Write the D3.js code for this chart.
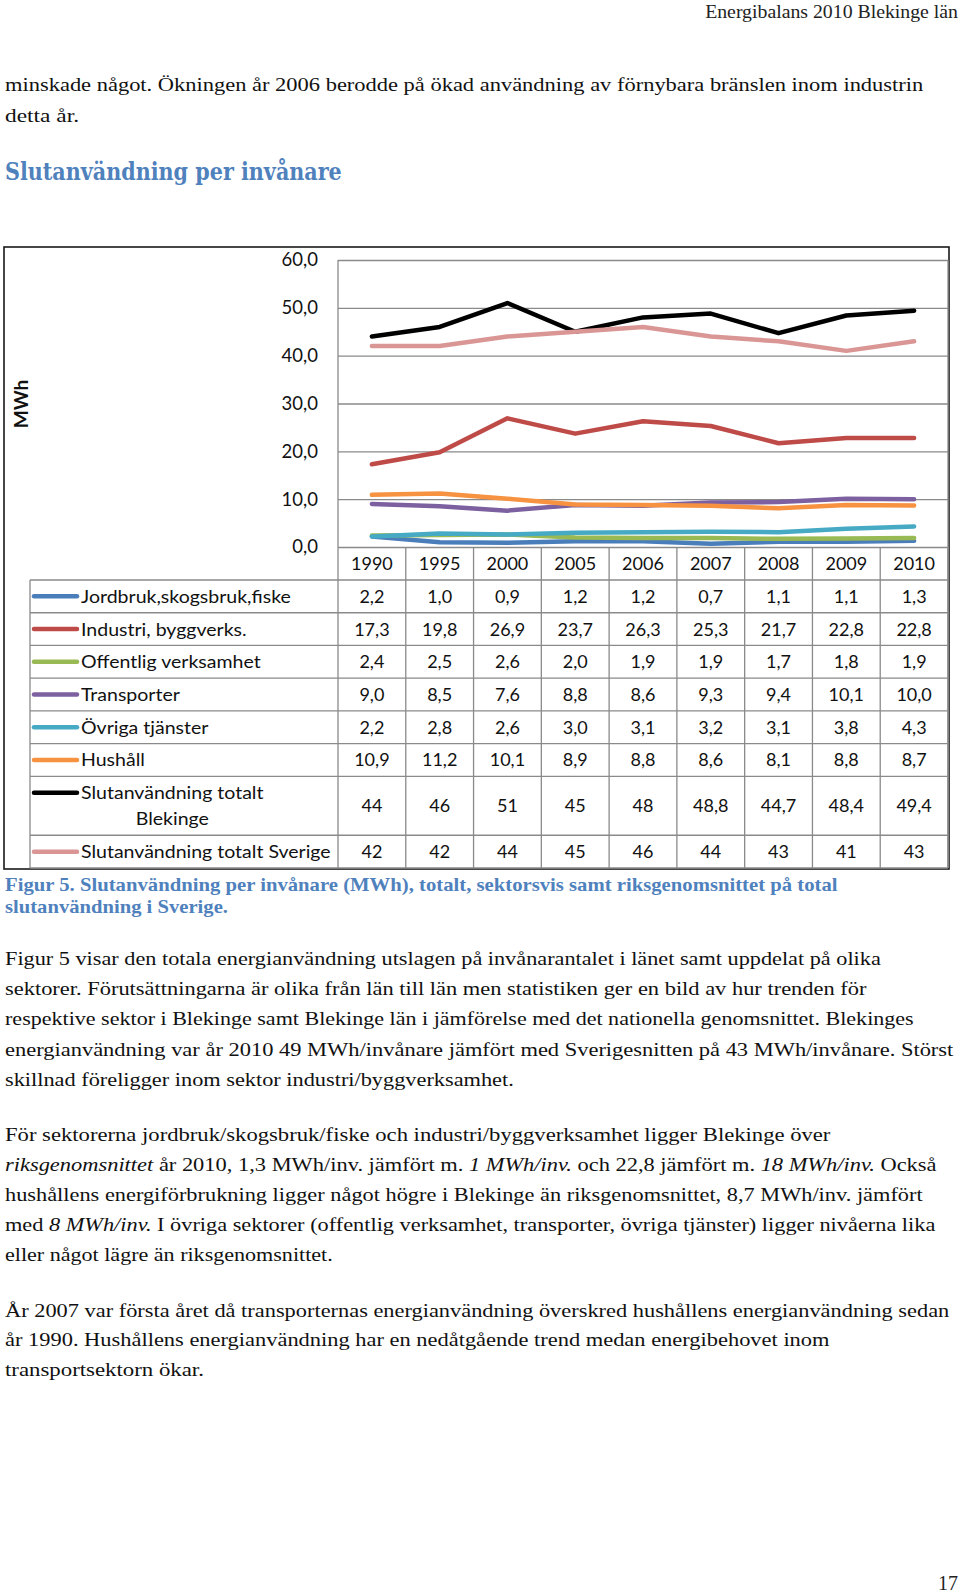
<!DOCTYPE html>
<html><head><meta charset="utf-8">
<script src="https://cdn.jsdelivr.net/npm/d3@7"></script>
<style>body{margin:0;background:#fff}svg{display:block}</style>
</head><body>
<svg id="c" width="960" height="1595"></svg>
<script>
// ---------------- DATA ----------------
const years = ["1990","1995","2000","2005","2006","2007","2008","2009","2010"];
const seriesNames = ["Jordbruk,skogsbruk,fiske","Industri, byggverks.","Offentlig verksamhet","Transporter","Övriga tjänster","Hushåll","Slutanvändning totalt Blekinge","Slutanvändning totalt Sverige"];
const jordbruk    = [2.2, 1.0, 0.9, 1.2, 1.2, 0.7, 1.1, 1.1, 1.3];
const industri    = [17.3, 19.8, 26.9, 23.7, 26.3, 25.3, 21.7, 22.8, 22.8];
const offentlig   = [2.4, 2.5, 2.6, 2.0, 1.9, 1.9, 1.7, 1.8, 1.9];
const transporter = [9.0, 8.5, 7.6, 8.8, 8.6, 9.3, 9.4, 10.1, 10.0];
const ovriga      = [2.2, 2.8, 2.6, 3.0, 3.1, 3.2, 3.1, 3.8, 4.3];
const hushall     = [10.9, 11.2, 10.1, 8.9, 8.8, 8.6, 8.1, 8.8, 8.7];
const totalBlekinge = [44, 46, 51, 45, 48, 48.8, 44.7, 48.4, 49.4];
const totalSverige  = [42, 42, 44, 45, 46, 44, 43, 41, 43];
const seriesFormat = ["fixed","fixed","fixed","fixed","fixed","fixed","general","general"];
const yTicks = [0, 10, 20, 30, 40, 50, 60];
const yAxisTitle = "MWh";

const pageHeader = "Energibalans 2010 Blekinge län";
const introLines = ["minskade något. Ökningen år 2006 berodde på ökad användning av förnybara bränslen inom industrin", "detta år."];
const sectionTitle = "Slutanvändning per invånare";
const captionLines = ["Figur 5. Slutanvändning per invånare (MWh), totalt, sektorsvis samt riksgenomsnittet på total", "slutanvändning i Sverige."];
const para1 = ["Figur 5 visar den totala energianvändning utslagen på invånarantalet i länet samt uppdelat på olika",
  "sektorer. Förutsättningarna är olika från län till län men statistiken ger en bild av hur trenden för",
  "respektive sektor i Blekinge samt Blekinge län i jämförelse med det nationella genomsnittet. Blekinges",
  "energianvändning var år 2010 49 MWh/invånare jämfört med Sverigesnitten på 43 MWh/invånare. Störst",
  "skillnad föreligger inom sektor industri/byggverksamhet."];
const para2 = ["För sektorerna jordbruk/skogsbruk/fiske och industri/byggverksamhet ligger Blekinge över",
  "_riksgenomsnittet_ år 2010, 1,3 MWh/inv. jämfört m. _1 MWh/inv._ och 22,8 jämfört m. _18 MWh/inv._ Också",
  "hushållens energiförbrukning ligger något högre i Blekinge än riksgenomsnittet, 8,7 MWh/inv. jämfört",
  "med _8 MWh/inv._ I övriga sektorer (offentlig verksamhet, transporter, övriga tjänster) ligger nivåerna lika",
  "eller något lägre än riksgenomsnittet."];
const para3 = ["År 2007 var första året då transporternas energianvändning överskred hushållens energianvändning sedan",
  "år 1990. Hushållens energianvändning har en nedåtgående trend medan energibehovet inom",
  "transportsektorn ökar."];
const pageNumber = "17";

// ---------------- LAYOUT ----------------
const seriesValues = [jordbruk, industri, offentlig, transporter, ovriga, hushall, totalBlekinge, totalSverige];
const colors = ["#4A7EBB","#BE4B48","#98B954","#7D60A0","#46AAC5","#F69240","#000000","#D99694"];
const svg = d3.select("#c");
const serif = "'Liberation Serif','DejaVu Serif',serif";
const sans = "Lato,'Open Sans',sans-serif";

function parseSegs(line){
  const parts = line.split("_");
  return parts.map((t,i)=>({t, it: i%2===1})).filter(s=>s.t.length);
}
function fitText(x, y, line, width, opts){
  const g = svg.append("g");
  const t = g.append("text")
    .attr("font-family", opts.family || serif)
    .attr("font-size", opts.size || 19)
    .attr("font-weight", opts.weight || "normal")
    .attr("fill", opts.fill || "#111")
    .attr("text-anchor", opts.anchor || "start");
  parseSegs(line).forEach(s => t.append("tspan").attr("font-style", s.it ? "italic" : "normal").text(s.t));
  const w = t.node().getComputedTextLength();
  const sx = width ? width / w : 1;
  g.attr("transform", `translate(${x},${y}) scale(${sx},1)`);
  return g;
}

// page text
fitText(958, 18, pageHeader, 253, {size: 18, anchor: "end", fill: "#222"});
const introY = [91, 122];
const introW = [919, 74];
introLines.forEach((l,i)=>fitText(5, introY[i], l, introW[i], {size: 19}));
fitText(5, 180, sectionTitle, 337, {size: 24, weight: "bold", fill: "#4F81BD", family: "'DejaVu Serif',serif"});
const capY = [891, 913], capW = [833, 223];
captionLines.forEach((l,i)=>fitText(5, capY[i], l, capW[i], {size: 18, weight: "bold", fill: "#4F81BD"}));
const p1Y = [965, 995, 1025, 1055.5, 1086], p1W = [876, 862, 909, 949, 509];
para1.forEach((l,i)=>fitText(5, p1Y[i], l, p1W[i], {size: 19}));
const p2Y = [1141, 1171, 1201, 1231, 1261], p2W = [826, 932, 918, 931, 328];
para2.forEach((l,i)=>fitText(5, p2Y[i], l, p2W[i], {size: 19}));
const p3Y = [1317, 1346, 1376], p3W = [945, 825, 199];
para3.forEach((l,i)=>fitText(5, p3Y[i], l, p3W[i], {size: 19}));
fitText(958, 1590, pageNumber, 20, {size: 21, anchor: "end", fill: "#222"});

// ---------------- CHART ----------------
const plotL = 338, plotR = 948, plotT = 260, plotB = 547;
const x = d3.scaleBand().domain(years).range([plotL, plotR]).padding(0);
const y = d3.scaleLinear().domain([0, 60]).range([plotB, plotT]);
const locale = d3.formatLocale({decimal: ",", thousands: " ", grouping: [3], currency: ["", ""]});
const f1 = locale.format(".1f");
const fmt = (v, kind) => kind === "fixed" ? f1(v) : (Number.isInteger(v) ? locale.format("d")(v) : f1(v));
const gridColor = "#8a8a8a";

// outer frame
svg.append("rect").attr("x", 4).attr("y", 247).attr("width", 945).attr("height", 622)
  .attr("fill", "none").attr("stroke", "#1a1a1a").attr("stroke-width", 1.6);

// gridlines via axis
const yAxis = d3.axisLeft(y).tickValues(yTicks).tickSize(-(plotR - plotL)).tickFormat(d => f1(d)).tickPadding(20);
const ga = svg.append("g").attr("transform", `translate(${plotL},0)`).call(yAxis);
ga.select(".domain").remove();
ga.selectAll(".tick line").attr("stroke", gridColor).attr("stroke-width", 1.3);
ga.selectAll(".tick text").attr("font-family", sans).attr("font-size", 18.5).attr("fill", "#111").attr("x", -20);

// y axis title
svg.append("text").attr("transform", "translate(28,404) rotate(-90)")
  .attr("text-anchor", "middle").attr("font-family", sans).attr("font-weight", "bold")
  .attr("font-size", 19).attr("fill", "#111").text(yAxisTitle);

// table geometry
const legL = 30;
const headT = plotB, headB = 580;
const rowUnits = [1,1,1,1,1,1,1.8,1];
const unit = (868 - headB) / d3.sum(rowUnits);
const rowTops = [headB];
rowUnits.forEach((u,i)=>rowTops.push(rowTops[i] + u * unit));

const tg = svg.append("g");
rowTops.forEach(t => tg.append("line").attr("x1", legL).attr("x2", plotR).attr("y1", t).attr("y2", t)
  .attr("stroke", gridColor).attr("stroke-width", 1.3));
tg.append("line").attr("x1", legL).attr("x2", legL).attr("y1", headB).attr("y2", 868).attr("stroke", gridColor).attr("stroke-width", 1.3);
tg.append("line").attr("x1", plotL).attr("x2", plotL).attr("y1", plotT).attr("y2", 868).attr("stroke", gridColor).attr("stroke-width", 1.3);
years.forEach(yr => {
  const xr = x(yr) + x.bandwidth();
  tg.append("line").attr("x1", xr).attr("x2", xr).attr("y1", headT).attr("y2", 868).attr("stroke", gridColor).attr("stroke-width", 1.3);
});
tg.append("line").attr("x1", plotR).attr("x2", plotR).attr("y1", plotT).attr("y2", 868).attr("stroke", gridColor).attr("stroke-width", 1.3);

// header years
tg.selectAll("text.yr").data(years).join("text").attr("class", "yr")
  .attr("x", d => x(d) + x.bandwidth()/2).attr("y", (headT + headB)/2)
  .attr("dy", "0.36em").attr("text-anchor", "middle").attr("font-family", sans).attr("font-size", 18).attr("fill", "#111")
  .text(d => d);

// series lines
const line = d3.line().x((d,i) => x(years[i]) + x.bandwidth()/2).y(d => y(d));
seriesValues.forEach((vals, si) => {
  svg.append("path").attr("d", line(vals)).attr("fill", "none").attr("stroke", colors[si])
    .attr("stroke-width", 4.5).attr("stroke-linecap", "round").attr("stroke-linejoin", "round");
});

// legend scale factor (Lato vs reference font width)
const probe = svg.append("text").attr("font-family", sans).attr("font-size", 18).text(seriesNames[0]);
const legScale = 210 / probe.node().getComputedTextLength();
probe.remove();
const maxLabelW = plotL - 81 - 4;

seriesNames.forEach((name, si) => {
  const top = rowTops[si], bot = rowTops[si+1], cy = (top + bot)/2;
  seriesValues[si].forEach((v, i) => {
    tg.append("text").attr("x", x(years[i]) + x.bandwidth()/2).attr("y", cy).attr("dy", "0.36em")
      .attr("text-anchor", "middle").attr("font-family", sans).attr("font-size", 18).attr("fill", "#111")
      .text(fmt(v, seriesFormat[si]));
  });
  const tmp = svg.append("text").attr("font-family", sans).attr("font-size", 18).text(name);
  const w = tmp.node().getComputedTextLength() * legScale;
  tmp.remove();
  let lines = [name];
  if (w > maxLabelW) {
    const k = name.lastIndexOf(" ");
    lines = [name.slice(0, k), name.slice(k + 1)];
  }
  const keyY = lines.length > 1 ? cy - 13 : cy;
  tg.append("line").attr("x1", 34).attr("x2", 77).attr("y1", keyY).attr("y2", keyY)
    .attr("stroke", colors[si]).attr("stroke-width", 4.5).attr("stroke-linecap", "round");
  if (lines.length === 1) {
    tg.append("text").attr("transform", `translate(81,${cy}) scale(${legScale},1)`).attr("dy", "0.36em")
      .attr("font-family", sans).attr("font-size", 18).attr("fill", "#111").text(name);
  } else {
    const t0 = svg.append("text").attr("font-family", sans).attr("font-size", 18).text(lines[0]);
    const w0 = t0.node().getComputedTextLength() * legScale; t0.remove();
    const cx = 81 + w0/2;
    lines.forEach((ln, li) => {
      tg.append("text").attr("transform", `translate(${cx},${cy - 13 + li*25.8}) scale(${legScale},1)`).attr("dy", "0.36em")
        .attr("text-anchor", "middle").attr("font-family", sans).attr("font-size", 18).attr("fill", "#111").text(ln);
    });
  }
});
</script>
</body></html>
